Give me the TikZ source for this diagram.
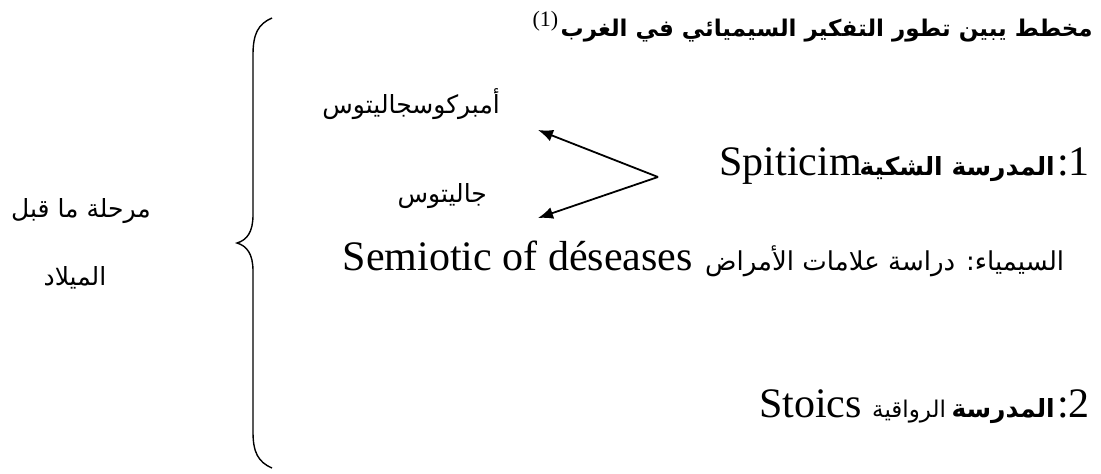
\documentclass[tikz,border=0pt]{standalone}
\usepackage{fontspec}
\setmainfont{Liberation Serif}
\newfontfamily\arb[Script=Arabic]{DejaVu Sans}
\TeXXeTstate=1
\usetikzlibrary{arrows.meta}
\begin{document}
\begin{tikzpicture}[x=1pt,y=-1pt,
  lat/.style={font=\fontsize{42}{42}\selectfont, inner sep=0pt},
  ar/.style={font=\arb\fontsize{25}{25}\selectfont, inner sep=0pt},
  arbold/.style={font=\arb\bfseries\fontsize{25}{25}\selectfont, inner sep=0pt},
  arr/.style={line width=1.8pt, -{Latex[length=15pt,width=12pt]}},
  bracestyle/.style={line width=1.4pt}]
\useasboundingbox (0,0) rectangle (1101,474);
% title
\node[arbold, font=\arb\bfseries\fontsize{23}{23}\selectfont, anchor=base east] (title) at (1093,36) {\beginR مخطط يبين تطور التفكير السيميائي في الغرب\endR};
\node[font=\fontsize{22}{22}\selectfont, inner sep=0pt, anchor=base east] (tnote) at ([xshift=-2pt,yshift=10pt]title.base west) {(1)};
% names and arrows
\node[ar, anchor=base east] (amb) at (500,113) {\beginR أمبركوسجاليتوس\endR};
\node[ar, anchor=base east] (jal) at (487,202) {\beginR جاليتوس\endR};
\coordinate (apex) at (658,177);
\coordinate (tip1) at (538,130);
\coordinate (tip2) at (538,218);
\draw[arr] (apex) -- (tip1);
\draw[arr] (apex) -- (tip2);
% line 1
\node[lat, anchor=base east] (n1) at (1090,175) {:1};
\node[arbold, anchor=base east] (s1) at (1055,175) {\beginR المدرسة الشكية\endR};
\node[lat, anchor=base east] (sp) at (862,175) {Spiticim};
% line 3
\node[ar, font=\arb\fontsize{26}{26}\selectfont, anchor=base west] (semar) at (705,270) {\beginR السيمياء: دراسة علامات الأمراض\endR};
\node[lat, anchor=base east] (sem) at (693,270) {Semiotic of déseases};
% line 2
\node[lat, anchor=base east] (n2) at (1090,417) {:2};
\node[arbold, anchor=base east] (m2) at (1055,417) {\beginR المدرسة\endR};
\node[ar, font=\arb\fontsize{23}{23}\selectfont, anchor=base west] (r2) at (872,417) {\beginR الرواقية\endR};
\node[lat, anchor=base east] (st) at (862,417) {Stoics};
% left label
\node[ar, anchor=base] (pre1) at (81,217) {\beginR مرحلة ما قبل\endR};
\node[ar, anchor=base] (pre2) at (75,285) {\beginR الميلاد\endR};
% brace
\draw[bracestyle] (272,18) .. controls (258,24) and (253,34) .. (253,55)
  -- (253,215) .. controls (253,232) and (247,240) .. (237,243)
  .. controls (247,246) and (253,254) .. (253,271)
  -- (253,432) .. controls (253,452) and (258,462) .. (272,468);
\end{tikzpicture}
\end{document}
